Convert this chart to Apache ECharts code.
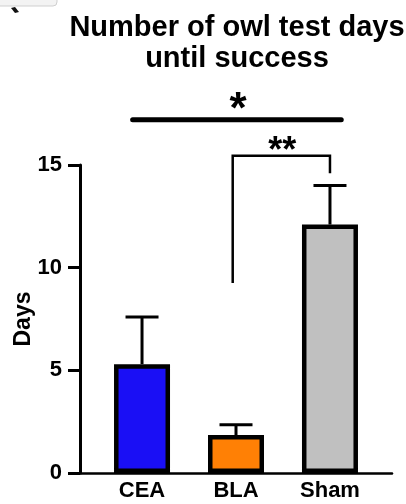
<!DOCTYPE html>
<html>
<head>
<meta charset="utf-8">
<script src="https://cdn.jsdelivr.net/npm/echarts@6/dist/echarts.min.js"></script>
<style>
  html, body { margin: 0; padding: 0; background: #fff; }
  #chart { width: 406px; height: 504px; }
</style>
</head>
<body>
<div id="chart"></div>
<script>
// Groups and their mean days (bar height) and mean + SEM (error bar top)
const categories = ['CEA', 'BLA', 'Sham'];
const meanDays = [5.3, 1.85, 12.1];
const errorTop = [7.6, 2.35, 14.0];
const barColors = ['#1a0ff5', '#ff8005', '#c0c0c0'];
const yTicks = [0, 5, 10, 15];

// Significance annotations
const sigBar = [-0.1, 2.12, 17.2, '*'];                  // plain bar over CEA..Sham
const sigBracket = [0.965, 2, 15.45, '**', 9.25, 14.6]; // BLA vs Sham, legs down to these levels

const FONT = "'Liberation Sans', Arial, Helvetica, sans-serif";
const chart = echarts.init(document.getElementById('chart'));

const barData = meanDays.map((v, i) => ({
  value: [i, v],
  itemStyle: { color: barColors[i] }
}));
const errData = meanDays.map((v, i) => [i, v, errorTop[i]]);

chart.setOption({
  animation: false,
  backgroundColor: '#fff',
  title: {
    text: 'Number of owl test days\nuntil success',
    left: 232,
    top: 7,
    textAlign: 'center',
    textStyle: { fontFamily: FONT, fontSize: 29, fontWeight: 'bold', color: '#000', lineHeight: 31 }
  },
  grid: { left: 80, right: 14, top: 165, bottom: 31, containLabel: false, outerBoundsMode: 'none' },
  xAxis: {
    type: 'value',
    min: -0.66,
    max: 2.66,
    splitLine: { show: false },
    axisLine: { show: true, onZero: false, lineStyle: { color: '#000', width: 2.5 } },
    axisTick: { show: false },
    axisLabel: {
      customValues: [0, 1, 2],
      formatter: v => categories[Math.round(v)],
      color: '#000', fontFamily: FONT, fontSize: 22, fontWeight: 'bold', margin: 7
    }
  },
  yAxis: {
    type: 'value',
    min: 0,
    max: 15,
    interval: 5,
    name: 'Days',
    nameLocation: 'middle',
    nameGap: 45,
    nameMoveOverlap: false,
    nameTextStyle: { color: '#000', fontFamily: FONT, fontSize: 23, fontWeight: 'bold' },
    splitLine: { show: false },
    axisLine: { show: true, onZero: false, lineStyle: { color: '#000', width: 3 } },
    axisTick: { show: true, length: 12, lineStyle: { color: '#000', width: 3 }, customValues: yTicks },
    axisLabel: { customValues: yTicks, color: '#000', fontFamily: FONT, fontSize: 22, fontWeight: 'bold', margin: 18 }
  },
  graphic: [
    // window corner at the top-left
    { type: 'rect', shape: { x: -6, y: -12, width: 63, height: 18, r: 4 },
      style: { fill: '#f3f3f3', stroke: '#cfcfcf', lineWidth: 1 } },
    { type: 'polygon', shape: { points: [[11, 8], [15, 7], [19, 12], [15, 13]] },
      style: { fill: '#111' } }
  ],
  series: [
    {
      type: 'bar',
      data: barData,
      barWidth: 56,
      itemStyle: { borderColor: '#000', borderWidth: 4.5 },
      z: 2
    },
    {
      type: 'custom',
      data: errData,
      z: 1,
      clip: false,
      renderItem: (params, api) => {
        const base = api.coord([api.value(0), api.value(1)]);
        const top = api.coord([api.value(0), api.value(2)]);
        const half = 16.5;
        const ls = { stroke: '#000', lineWidth: 3 };
        return {
          type: 'group',
          children: [
            { type: 'line', shape: { x1: base[0], y1: base[1], x2: top[0], y2: top[1] }, style: ls },
            { type: 'line', shape: { x1: top[0] - half, y1: top[1], x2: top[0] + half, y2: top[1] }, style: ls }
          ]
        };
      }
    },
    {
      type: 'custom',
      data: [0],
      z: 3,
      clip: false,
      silent: true,
      renderItem: (params, api) => {
        const a = api.coord([sigBar[0], sigBar[2]]);
        const b = api.coord([sigBar[1], sigBar[2]]);
        const l1 = api.coord([sigBracket[0], sigBracket[2]]);
        const r1 = api.coord([sigBracket[1], sigBracket[2]]);
        const lEnd = api.coord([sigBracket[0], sigBracket[4]]);
        const rEnd = api.coord([sigBracket[1], sigBracket[5]]);
        return {
          type: 'group',
          children: [
            { type: 'line', shape: { x1: a[0], y1: a[1], x2: b[0], y2: b[1] },
              style: { stroke: '#000', lineWidth: 5, lineCap: 'round' } },
            { type: 'text', style: { x: (a[0] + b[0]) / 2 + 1, y: a[1] + 13, text: sigBar[3],
              fill: '#000', font: 'bold 44px ' + FONT, align: 'center', verticalAlign: 'bottom' } },
            { type: 'polyline', shape: { points: [[lEnd[0], lEnd[1]], [l1[0], l1[1]], [r1[0], r1[1]], [rEnd[0], rEnd[1]]] },
              style: { stroke: '#000', lineWidth: 2.5, fill: 'none' } },
            { type: 'text', style: { x: (l1[0] + r1[0]) / 2 + 1, y: l1[1] + 14, text: sigBracket[3],
              fill: '#000', font: 'bold 36px ' + FONT, align: 'center', verticalAlign: 'bottom' } }
          ]
        };
      }
    }
  ]
});
</script>
</body>
</html>
